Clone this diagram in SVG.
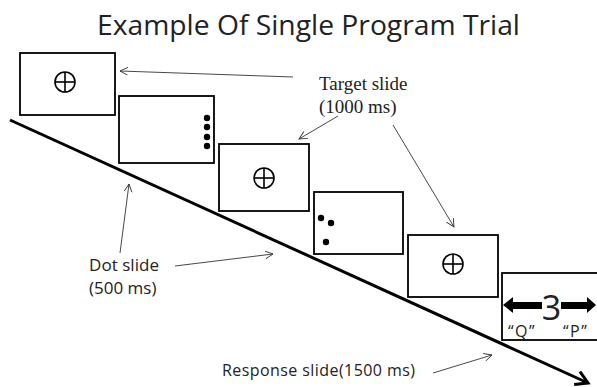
<svg xmlns="http://www.w3.org/2000/svg" width="597" height="387" viewBox="0 0 597 387">
<style>
.box{fill:#fff;stroke:#000;stroke-width:1.8}
.ch{fill:none;stroke:#000;stroke-width:1.6}
.dot{fill:#000}
.thin{fill:none;stroke:#333;stroke-width:0.9}
.cal{font-family:"Open Sans","Liberation Sans",sans-serif;fill:#222}
.tnr{font-family:"Liberation Serif","Times New Roman",serif;fill:#222}
</style>
<defs>
<marker id="ah" markerUnits="userSpaceOnUse" markerWidth="12" markerHeight="10" refX="8" refY="4" orient="auto">
<path d="M0,0 L8,4 L0,8" fill="none" stroke="#333" stroke-width="0.9"/>
</marker>
<marker id="bh" markerUnits="userSpaceOnUse" markerWidth="20" markerHeight="20" refX="13" refY="8" orient="auto">
<path d="M1,1 L13,8 L1,15" fill="none" stroke="#000" stroke-width="3"/>
</marker>
<g id="crosshair">
<circle cx="0" cy="0" r="10"/>
<line x1="-10" y1="0" x2="10" y2="0"/>
<line x1="0" y1="-10" x2="0" y2="10"/>
</g>
</defs>
<rect width="597" height="387" fill="#fff"/>
<text class="cal" x="97" y="35" font-size="28" textLength="423" lengthAdjust="spacingAndGlyphs">Example Of Single Program Trial</text>

<g id="timeline">
<line x1="10" y1="120" x2="588" y2="383" stroke="#000" stroke-width="3" marker-end="url(#bh)"/>
</g>

<g id="slide1">
<rect class="box" x="20" y="53" width="95" height="62"/>
<use href="#crosshair" x="65" y="82" class="ch"/>
</g>
<g id="slide2">
<rect class="box" x="119" y="96" width="95" height="67"/>
<circle class="dot" cx="207" cy="118" r="3.2"/>
<circle class="dot" cx="207" cy="127" r="3.2"/>
<circle class="dot" cx="207" cy="137" r="3.2"/>
<circle class="dot" cx="207" cy="146" r="3.2"/>
</g>
<g id="slide3">
<rect class="box" x="219" y="144" width="90" height="67"/>
<use href="#crosshair" x="264" y="178" class="ch"/>
</g>
<g id="slide4">
<rect class="box" x="314" y="192" width="89" height="62"/>
<circle class="dot" cx="321" cy="218" r="3.2"/>
<circle class="dot" cx="331" cy="223" r="3.2"/>
<circle class="dot" cx="326" cy="242" r="3.2"/>
</g>
<g id="slide5">
<rect class="box" x="408" y="235" width="90" height="62"/>
<use href="#crosshair" x="453" y="264" class="ch"/>
</g>
<g id="slide6">
<rect class="box" x="502" y="273" width="96" height="67"/>
<path d="M503,305 L513,297 L513,302 L542,302 L542,309 L513,309 L513,313 Z" fill="#000"/>
<path d="M596,305 L587,297 L587,302 L561,302 L561,309 L587,309 L587,313 Z" fill="#000"/>
<text class="cal" x="551.5" y="320" font-size="34" text-anchor="middle">3</text>
<text class="cal" x="508" y="337" font-size="16" letter-spacing="1.5">“Q”</text>
<text class="cal" x="563" y="337" font-size="16" letter-spacing="1.5">“P”</text>
</g>

<g id="labels">
<text class="tnr" x="319" y="90" font-size="19">Target slide</text>
<text class="tnr" x="319" y="113" font-size="19">(1000 ms)</text>
<text class="cal" x="89" y="271" font-size="17" textLength="70">Dot slide</text>
<text class="cal" x="89" y="294" font-size="17">(500 ms)</text>
<text class="cal" x="222" y="376" font-size="16" textLength="193">Response slide(1500 ms)</text>
</g>

<g id="connectors">
<line class="thin" x1="293" y1="77" x2="120" y2="71" marker-end="url(#ah)"/>
<line class="thin" x1="338" y1="116" x2="299" y2="139" marker-end="url(#ah)"/>
<line class="thin" x1="393" y1="125" x2="454" y2="227" marker-end="url(#ah)"/>
<line class="thin" x1="120" y1="253" x2="129" y2="184" marker-end="url(#ah)"/>
<line class="thin" x1="175" y1="266" x2="273" y2="254" marker-end="url(#ah)"/>
<line class="thin" x1="433" y1="373" x2="492" y2="355" marker-end="url(#ah)"/>
</g>
</svg>
